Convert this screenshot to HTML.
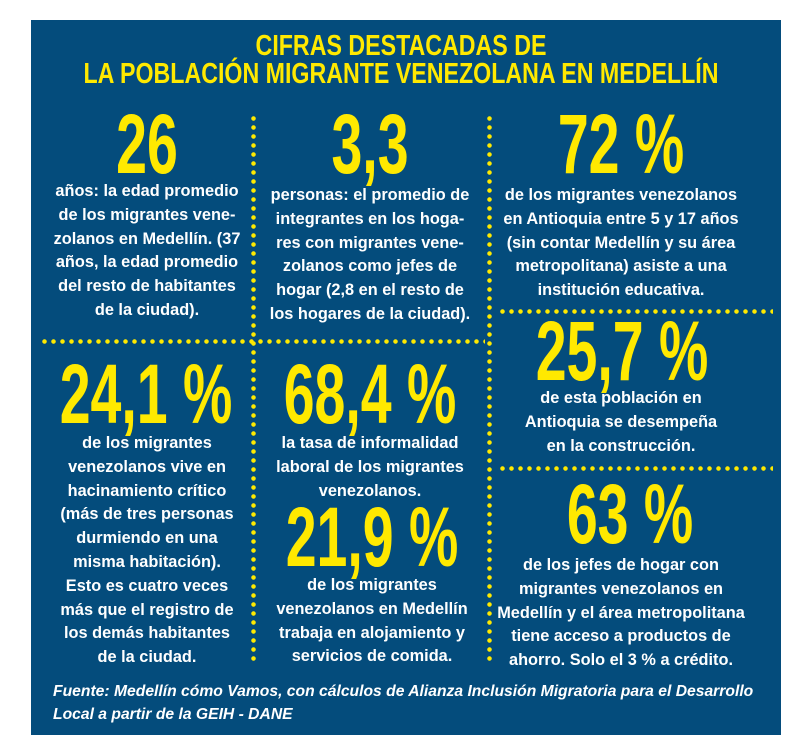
<!DOCTYPE html>
<html><head><meta charset="utf-8"><style>
body{margin:0;width:802px;height:750px;background:#fff;position:relative;overflow:hidden;font-family:"Liberation Sans",sans-serif;}
#p{position:absolute;left:31px;top:20px;width:750px;height:715px;background:#044c7c;}
.b{position:absolute;text-align:center;color:#fff;font-weight:bold;font-size:17px;line-height:23.8px;transform:scaleX(0.96);white-space:nowrap;}
.n{position:absolute;text-align:center;color:#ffe900;font-weight:bold;font-size:84px;line-height:84px;transform:scaleX(0.66);white-space:nowrap;width:300px;}
.t{position:absolute;left:0;width:802px;text-align:center;color:#ffe900;font-weight:bold;font-size:29px;line-height:28px;transform:scaleX(0.8);}
.v{position:absolute;width:5px;background:radial-gradient(circle,#ffe900 2px,transparent 2.5px) 0 0/5px 9px repeat-y;}
.h{position:absolute;height:5px;background:radial-gradient(circle,#ffe900 2px,transparent 2.5px) 0 0/9px 5px repeat-x;}
.f{position:absolute;left:53px;top:680px;color:#fff;font-style:italic;font-weight:bold;font-size:16px;line-height:23px;transform:scaleX(0.98);transform-origin:0 0;white-space:nowrap;}
</style></head><body>
<div id="p"></div>
<div class="t" style="top:32px">CIFRAS DESTACADAS DE<br>LA POBLACIÓN MIGRANTE VENEZOLANA EN MEDELLÍN</div>

<div class="v" style="left:251px;top:114px;height:550px"></div>
<div class="v" style="left:487px;top:114px;height:550px"></div>
<div class="h" style="left:40px;top:339px;width:445px"></div>
<div class="h" style="left:498px;top:309px;width:275px"></div>
<div class="h" style="left:498px;top:466px;width:275px"></div>

<div class="n" style="left:-3px;top:102px">26</div>
<div class="b" style="left:27px;width:240px;top:179px">años: la edad promedio<br>de los migrantes vene-<br>zolanos en Medellín. (37<br>años, la edad promedio<br>del resto de habitantes<br>de la ciudad).</div>

<div class="n" style="left:220px;top:102px">3,3</div>
<div class="b" style="left:250px;width:240px;top:183px">personas: el promedio de<br>integrantes en los hoga-<br>res con migrantes vene-<br>zolanos como jefes de<br>hogar (2,8 en el resto de<br>los hogares de la ciudad).</div>

<div class="n" style="left:471px;top:102px">72 %</div>
<div class="b" style="left:481px;width:280px;top:183px">de los migrantes venezolanos<br>en Antioquia entre 5 y 17 años<br>(sin contar Medellín y su área<br>metropolitana) asiste a una<br>institución educativa.</div>

<div class="n" style="left:-4px;top:352px">24,1 %</div>
<div class="b" style="left:27px;width:240px;top:431px">de los migrantes<br>venezolanos vive en<br>hacinamiento crítico<br>(más de tres personas<br>durmiendo en una<br>misma habitación).<br>Esto es cuatro veces<br>más que el registro de<br>los demás habitantes<br>de la ciudad.</div>

<div class="n" style="left:220px;top:352px">68,4 %</div>
<div class="b" style="left:250px;width:240px;top:431px">la tasa de informalidad<br>laboral de los migrantes<br>venezolanos.</div>

<div class="n" style="left:222px;top:495px">21,9 %</div>
<div class="b" style="left:252px;width:240px;top:573px">de los migrantes<br>venezolanos en Medellín<br>trabaja en alojamiento y<br>servicios de comida.</div>

<div class="n" style="left:472px;top:309px">25,7 %</div>
<div class="b" style="left:481px;width:280px;top:386px">de esta población en<br>Antioquia se desempeña<br>en la construcción.</div>

<div class="n" style="left:480px;top:472px">63 %</div>
<div class="b" style="left:481px;width:280px;top:553px">de los jefes de hogar con<br>migrantes venezolanos en<br>Medellín y el área metropolitana<br>tiene acceso a productos de<br>ahorro. Solo el 3 % a crédito.</div>

<div class="f">Fuente: Medellín cómo Vamos, con cálculos de Alianza Inclusión Migratoria para el Desarrollo<br>Local a partir de la GEIH - DANE</div>
</body></html>
